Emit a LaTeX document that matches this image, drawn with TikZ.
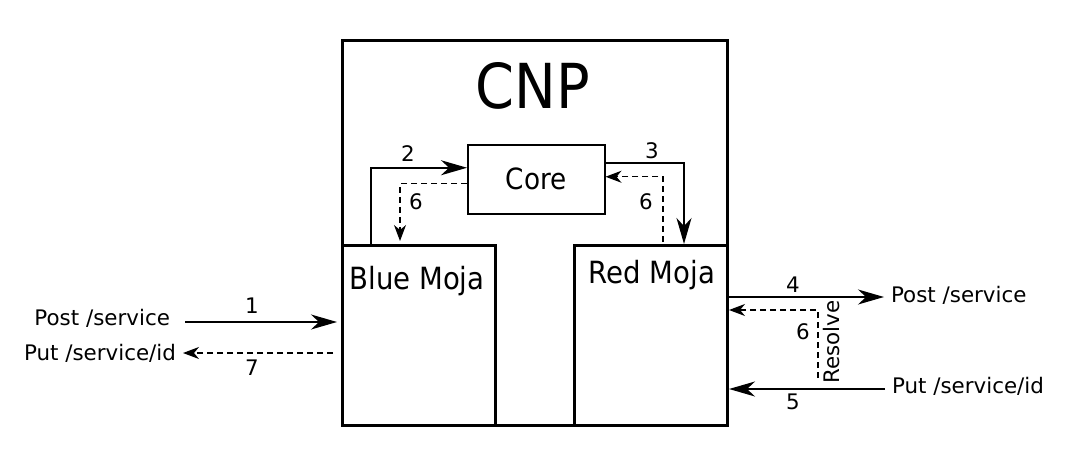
\documentclass[tikz,border=0pt]{standalone}
\usepackage{fontspec}
\setmainfont{DejaVu Sans}
\newfontfamily\condfont{DejaVu Sans Condensed}
\usetikzlibrary{arrows.meta,positioning}
\tikzstyle{box}=[draw,line width=1.5pt,inner sep=0pt,anchor=north west]
\tikzstyle{corebox}=[draw,line width=0.75pt,inner sep=0pt,anchor=north west,minimum width=68.5pt,minimum height=34.5pt]
\tikzstyle{lbl}=[font=\fontsize{10.7}{12}\selectfont]
\tikzstyle{big}=[font=\condfont\fontsize{15.3}{18}\selectfont]
\tikzstyle{call}=[draw,line width=0.8pt,-{Stealth[length=13pt,width=7.5pt,inset=4pt]}]
\tikzstyle{reply}=[draw,line width=0.6pt,dash pattern=on 3pt off 2pt,-{Stealth[length=8pt,width=6pt,inset=2.5pt]}]

\begin{document}
\begin{tikzpicture}[x=0.5pt,y=-0.5pt]
  \useasboundingbox (0,0) rectangle (1075,465);
  % boxes
  \node[box,minimum width=192.5pt,minimum height=192.5pt] (cnp) at (341,39) {};
  \node[box,minimum width=76.5pt,minimum height=90pt]     (blue) at (341,244) {};
  \node[box,minimum width=76.5pt,minimum height=90pt]     (red) at (573,244) {};
  \node[corebox] (core) at (467,144) {};
  \node[font=\condfont\fontsize{31}{36}\selectfont] (title) at (533,86) {CNP};
  \node[font=\condfont\fontsize{14.6}{17}\selectfont] (coretxt) at (core.center) {Core};
  \node[big] (bluetxt) at (417,281) {Blue Moja};
  \node[big] (redtxt) at (652,275) {Red Moja};

  % outside texts
  \node[lbl,anchor=east] (postL) at (177,318) {Post /service};
  \node[lbl,anchor=east] (putL) at (183,353) {Put /service/id};
  \node[lbl,anchor=west] (postR) at (884,295) {Post /service};
  \node[lbl,anchor=west] (putR) at (885,386) {Put /service/id};

  % helper points
  \coordinate (b1) at ([yshift=-39pt]blue.north west);
  \coordinate (b7) at ([yshift=-54.5pt]blue.north west);
  \coordinate (r4) at ([yshift=-26.5pt]red.north east);
  \coordinate (r6) at ([yshift=-33pt]red.north east);
  \coordinate (r5) at ([yshift=-72.5pt]red.north east);
  \coordinate (res) at (818,378);

  % connectors
  \path[call] (b1 -| postL.east) [shorten <=4pt,shorten >=2pt] -- (b1);
  \path[reply] (b7) [shorten <=4pt] -- (b7 -| putL.east);
  \path[call] ([xshift=15pt]blue.north west) |- ([yshift=5.75pt]core.west);
  \path[reply] ([yshift=-2.25pt]core.west) -| ([xshift=29.5pt,yshift=1.5pt]blue.north west);
  \path[call] ([yshift=8.25pt]core.east) -| ([xshift=55.5pt]red.north west);
  \path[reply] ([xshift=45pt,yshift=1pt]red.north west) |- ([yshift=1.25pt]core.east);
  \path[call] (r4) -- (r4 -| postR.west);
  \path[reply] (res) |- (r6);
  \path[call] (r5 -| putR.west) -- (r5);

  % numbers
  \node[lbl] (n1) at (252,306) {1};
  \node[lbl] (n2) at (408,154) {2};
  \node[lbl] (n3) at (652,151) {3};
  \node[lbl] (n4) at (793,285) {4};
  \node[lbl] (n5) at (793,402) {5};
  \node[lbl] (n6a) at (416,202) {6};
  \node[lbl] (n6b) at (646,202) {6};
  \node[lbl] (n6c) at (803,332) {6};
  \node[lbl] (n7) at (252,368) {7};
  \node[lbl,rotate=90] (resolve) at (832,342) {Resolve};
\end{tikzpicture}
\end{document}
